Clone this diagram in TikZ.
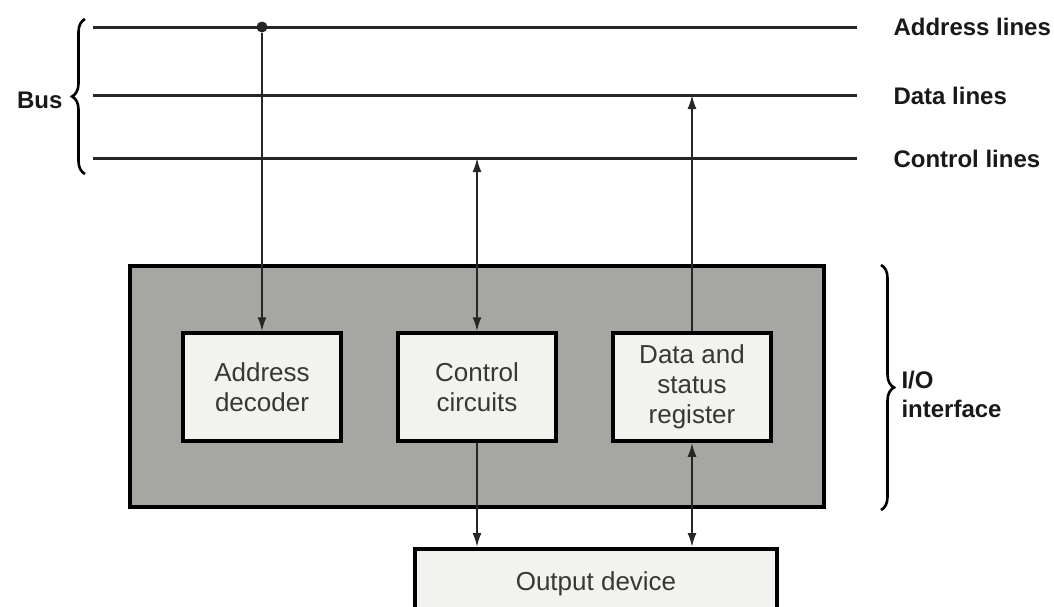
\documentclass[tikz,border=0pt]{standalone}
\usepackage{fontspec}
\setmainfont{Liberation Sans}
\usetikzlibrary{decorations.pathreplacing,arrows.meta}
\definecolor{iogray}{RGB}{166,166,162}
\definecolor{boxfill}{RGB}{242,242,238}
\definecolor{txtgray}{RGB}{55,55,55}
\begin{document}
\begin{tikzpicture}[x=1pt,y=-1pt,
  busline/.style={line width=3pt, draw=black!85},
  inbox/.style={draw, line width=3.5pt, fill=boxfill, minimum width=158pt, minimum height=108pt,
    align=center, font=\fontsize{26}{30}\selectfont, text=txtgray},
  conn/.style={line width=2pt, draw=black!85},
  tip/.style={-{Latex[length=14pt,width=9pt]}},
  bitip/.style={{Latex[length=14pt,width=9pt]}-{Latex[length=14pt,width=9pt]}},
  lbl/.style={font=\fontsize{24}{29}\selectfont\bfseries, anchor=west, align=left, text=black!90},
  brace/.style={decorate, decoration={brace, amplitude=13pt}, line width=2.6pt}]
\useasboundingbox (0,0) rectangle (1054,606);
\clip (0,0) rectangle (1054,606);
\fill[white] (0,0) rectangle (1054,606);

% bus lines
\coordinate (a1) at (93,27);   \coordinate (a2) at (857,27);
\coordinate (d1) at (93,95);   \coordinate (d2) at (857,95);
\coordinate (c1) at (93,158);  \coordinate (c2) at (857,158);
\draw[busline] (a1) -- (a2);
\draw[busline] (d1) -- (d2);
\draw[busline] (c1) -- (c2);

\node[lbl] (la) at (890,27) {Address lines};
\node[lbl] (ld) at (890,96) {Data lines};
\node[lbl] (lc) at (890,159) {Control lines};

% bus brace
\coordinate (bb) at (85,174);
\coordinate (bt) at (85,19);
\draw[brace] (bb) -- (bt);
\node[lbl, anchor=east] (bus) at (66,100) {Bus};

% I/O interface
\node[draw, line width=3.5pt, fill=iogray, minimum width=694pt, minimum height=241pt] (io) at (477,386.5) {};
\node[inbox] (addr) at (262,387) {Address\\decoder};
\node[inbox] (ctrl) at (477,387) {Control\\circuits};
\node[inbox] (dsr) at (692,387) {Data and\\status\\register};

\node[draw, line width=3.5pt, fill=boxfill, anchor=north, minimum width=362pt, minimum height=70pt,
  font=\fontsize{26}{30}\selectfont, text=txtgray] (out) at (596,547) {Output device};

\draw[brace] (881,265) -- (881,510);
\node[lbl] (iol) at (898,394) {I/O\\interface};

% connectors
\node[circle, fill=black!85, inner sep=0pt, minimum size=11pt] (dot) at (262,27) {};
\coordinate (cl) at (477,158);
\coordinate (dl) at (692,95);
\draw[conn,tip] (dot) -- (addr.north);
\draw[conn,bitip] (cl) -- (ctrl.north);
\draw[conn,tip] (dsr.north) -- (dl);
\draw[conn,tip] (ctrl.south) -- (ctrl.south |- out.north);
\draw[conn,bitip] (dsr.south) -- (dsr.south |- out.north);
\end{tikzpicture}
\end{document}
